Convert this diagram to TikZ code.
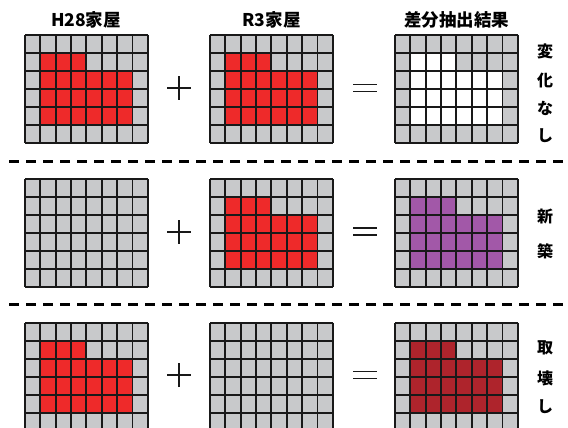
\documentclass[tikz,border=0pt]{standalone}
\usepackage{fontspec}
\setmainfont{Noto Sans CJK JP}
\definecolor{cellgray}{RGB}{200,201,203}
\definecolor{housered}{RGB}{238,42,42}
\definecolor{newpurple}{RGB}{162,88,168}
\definecolor{demored}{RGB}{174,36,44}
\definecolor{gridline}{RGB}{25,25,25}
\tikzset{
  headlabel/.style={font=\fontsize{17.5}{20}\selectfont\bfseries, inner sep=0pt},
  sidelabel/.style={font=\fontsize{16}{18}\selectfont\bfseries, inner sep=0pt},
  sepline/.style={line width=3pt, dash pattern=on 10pt off 7pt},
  opline/.style={line width=1.7pt, gridline},
  gridlines/.style={line width=1.9pt, draw=gridline},
}
% #1 x, #2 y, #3 house colour (or none)
\newcommand\housegrid[3]{%
  \begin{scope}[shift={(#1,#2)}, x=15.35pt, y=-18pt]
    \fill[cellgray] (0,0) rectangle (8,6);
    \ifx\relax#3\relax\else
      \fill[#3] (1,1) -- (4,1) -- (4,2) -- (7,2) -- (7,5) -- (1,5) -- cycle;
    \fi
    \foreach \i in {0,...,8} \draw[gridlines] (\i,0) -- (\i,6);
    \foreach \j in {0,...,6} \draw[gridlines] (0,\j) -- (8,\j);
  \end{scope}}
\newcommand\plussign[3]{%
  \coordinate (#1) at (#2,#3);
  \draw[opline] ([xshift=-12pt]#1) -- ([xshift=12pt]#1);
  \draw[opline] ([yshift=-12pt]#1) -- ([yshift=12pt]#1);}
\newcommand\equalsign[3]{%
  \coordinate (#1) at (#2,#3);
  \draw[opline] ([xshift=-12pt,yshift=3.5pt]#1) -- ([xshift=12pt,yshift=3.5pt]#1);
  \draw[opline] ([xshift=-12pt,yshift=-3.5pt]#1) -- ([xshift=12pt,yshift=-3.5pt]#1);}
\begin{document}
\begin{tikzpicture}[x=1pt, y=-1pt]
  \useasboundingbox (0,0) rectangle (568,428);
  % headings
  \node[headlabel] (h28) at (86,20) {H28家屋};
  \node[headlabel] (r3) at (271.5,20) {R3家屋};
  \node[headlabel] (diff) at (456.5,20) {差分抽出結果};
  % row 1
  \housegrid{25}{35}{housered}
  \housegrid{210}{35}{housered}
  \housegrid{395}{35}{white}
  \plussign{p1}{179}{88}
  \equalsign{e1}{365}{88}
  \node[sidelabel] (s1a) at (545,51.5) {変};
  \node[sidelabel] (s1b) at (545,80.5) {化};
  \node[sidelabel] (s1c) at (545,108.5) {な};
  \node[sidelabel] (s1d) at (545,136) {し};
  % separator 1
  \coordinate (d1a) at (9,161.7);
  \coordinate (d1b) at (568,161.7);
  \draw[sepline] (d1a) -- (d1b);
  % row 2
  \housegrid{25}{179.3}{}
  \housegrid{210}{179.3}{housered}
  \housegrid{395}{179.3}{newpurple}
  \plussign{p2}{179}{231.7}
  \equalsign{e2}{365}{231.7}
  \node[sidelabel] (s2a) at (545,216.5) {新};
  \node[sidelabel] (s2b) at (545,251) {築};
  % separator 2
  \coordinate (d2a) at (9,304.3);
  \coordinate (d2b) at (568,304.3);
  \draw[sepline] (d2a) -- (d2b);
  % row 3
  \housegrid{25}{322.7}{housered}
  \housegrid{210}{322.7}{}
  \housegrid{395}{322.7}{demored}
  \plussign{p3}{179}{375}
  \equalsign{e3}{365}{375}
  \node[sidelabel] (s3a) at (545,348) {取};
  \node[sidelabel] (s3b) at (545,378.5) {壊};
  \node[sidelabel] (s3c) at (545,406.5) {し};
\end{tikzpicture}
\end{document}
